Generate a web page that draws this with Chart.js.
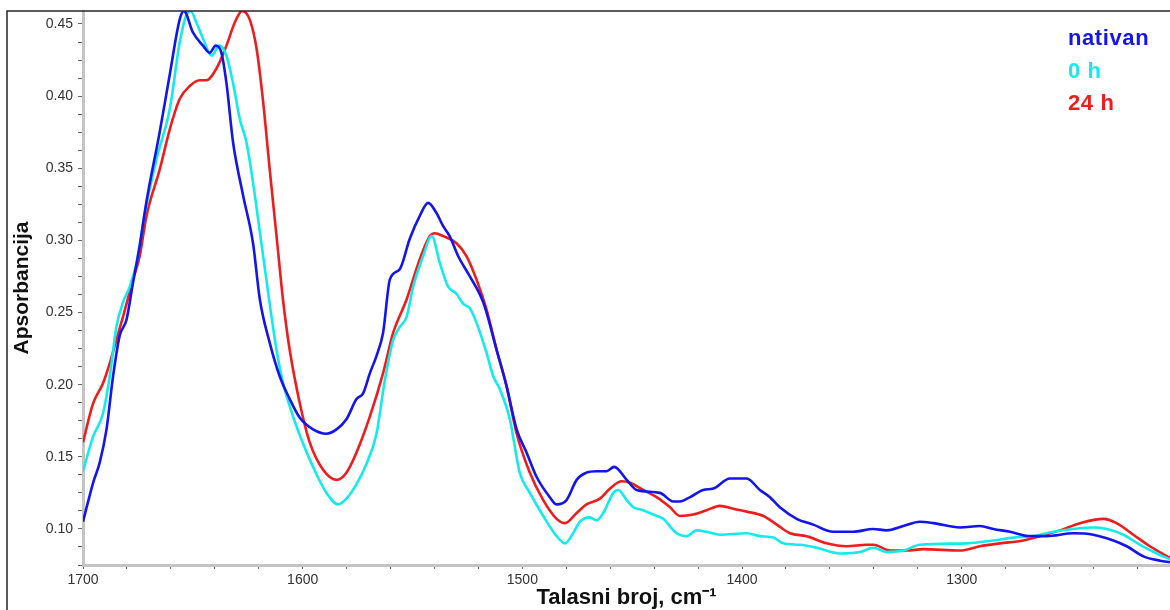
<!DOCTYPE html>
<html>
<head>
<meta charset="utf-8">
<script src="https://cdn.jsdelivr.net/npm/chart.js@4.4.1/dist/chart.umd.min.js"></script>
<style>
  html, body { margin: 0; padding: 0; background: #fff; }
</style>
</head>
<body>
<canvas id="myChart" width="1170" height="610"></canvas>
<script>
// Talasni broj (cm-1) i apsorbancija, procitano sa slike
const wnNativan = [1700, 1695.4, 1692.4, 1689.3, 1686.3, 1683.3, 1680.2, 1677.2, 1674.2, 1671.1,
    1665.1, 1660.5, 1656.0, 1654.1, 1649.9, 1645.4, 1642.3, 1639.6, 1637.0, 1634.7,
    1631.7, 1627.1, 1622.6, 1619.5, 1615.0, 1610.5, 1605.9, 1601.3, 1595.3, 1589.2,
    1584.6, 1580.1, 1575.5, 1572.5, 1569.4, 1566.4, 1563.4, 1560.3, 1555.8, 1551.3,
    1546.7, 1542.9, 1539.1, 1536.1, 1533.1, 1529.2, 1523.9, 1517.8, 1511.7, 1507.2,
    1502.6, 1498.1, 1493.5, 1487.5, 1484.4, 1479.9, 1475.3, 1470.8, 1466.2, 1461.7,
    1458.2, 1452.5, 1448.0, 1437.4, 1431.3, 1428.3, 1423.7, 1417.7, 1413.1, 1405.5,
    1397.9, 1391.9, 1387.3, 1382.8, 1375.1, 1367.6, 1358.5, 1349.4, 1340.3, 1334.2,
    1326.6, 1319.1, 1312.9, 1300.8, 1291.7, 1285.6, 1278.0, 1268.9, 1261.3, 1249.2,
    1240.1, 1231.0, 1224.9, 1217.3, 1209.7, 1205.2];
const absNativan = [0.105, 0.132, 0.146, 0.169, 0.206, 0.234, 0.245, 0.271, 0.296, 0.327,
    0.375, 0.415, 0.453, 0.459, 0.444, 0.435, 0.430, 0.435, 0.430, 0.409,
    0.368, 0.331, 0.298, 0.259, 0.229, 0.206, 0.190, 0.177, 0.169, 0.166,
    0.169, 0.176, 0.190, 0.194, 0.208, 0.220, 0.236, 0.273, 0.280, 0.301,
    0.317, 0.326, 0.319, 0.310, 0.303, 0.289, 0.275, 0.257, 0.224, 0.199,
    0.169, 0.153, 0.136, 0.122, 0.117, 0.120, 0.134, 0.139, 0.140, 0.140,
    0.143, 0.134, 0.127, 0.125, 0.119, 0.119, 0.122, 0.127, 0.128, 0.135,
    0.135, 0.127, 0.122, 0.115, 0.107, 0.103, 0.098, 0.098, 0.100, 0.099,
    0.102, 0.105, 0.104, 0.101, 0.102, 0.100, 0.098, 0.095, 0.095, 0.097,
    0.096, 0.092, 0.088, 0.081, 0.078, 0.077];

const wn0h = [1700, 1695.4, 1690.9, 1687.8, 1684.8, 1681.8, 1678.7, 1675.7, 1672.0, 1666.6,
    1660.5, 1656.0, 1653.0, 1651.0, 1648.4, 1645.4, 1641.5, 1637.8, 1634.7, 1631.7,
    1628.6, 1625.6, 1622.6, 1618.8, 1615.0, 1611.9, 1608.9, 1604.4, 1599.8, 1595.3,
    1589.2, 1583.9, 1580.1, 1575.5, 1571.0, 1566.4, 1562.6, 1558.8, 1555.8, 1552.7,
    1549.7, 1545.2, 1541.3, 1537.5, 1533.8, 1530.0, 1526.9, 1523.9, 1520.9, 1516.3,
    1513.3, 1510.3, 1505.7, 1501.2, 1496.6, 1490.5, 1484.4, 1480.6, 1476.9, 1473.8,
    1469.3, 1466.2, 1463.2, 1458.6, 1456.4, 1452.5, 1449.5, 1445.0, 1440.4, 1435.9,
    1429.8, 1425.3, 1420.7, 1416.1, 1410.1, 1397.9, 1391.9, 1385.8, 1381.2, 1373.6,
    1366.0, 1355.4, 1346.3, 1340.2, 1334.2, 1326.6, 1319.0, 1297.7, 1285.6, 1276.5,
    1267.4, 1258.3, 1249.2, 1240.1, 1234.0, 1226.4, 1218.8, 1211.2, 1205.2];
const abs0h = [0.140, 0.164, 0.180, 0.206, 0.240, 0.257, 0.268, 0.284, 0.318, 0.356,
    0.391, 0.437, 0.456, 0.459, 0.451, 0.440, 0.428, 0.435, 0.428, 0.409,
    0.384, 0.368, 0.340, 0.298, 0.256, 0.224, 0.201, 0.178, 0.159, 0.143,
    0.125, 0.117, 0.121, 0.131, 0.145, 0.166, 0.203, 0.231, 0.240, 0.247,
    0.268, 0.289, 0.303, 0.284, 0.268, 0.263, 0.256, 0.253, 0.243, 0.222,
    0.206, 0.197, 0.176, 0.139, 0.125, 0.109, 0.095, 0.090, 0.097, 0.105,
    0.108, 0.106, 0.111, 0.125, 0.127, 0.120, 0.115, 0.113, 0.110, 0.107,
    0.097, 0.095, 0.099, 0.098, 0.096, 0.097, 0.095, 0.094, 0.090, 0.089,
    0.087, 0.083, 0.084, 0.087, 0.084, 0.085, 0.089, 0.090, 0.092, 0.094,
    0.095, 0.098, 0.100, 0.101, 0.100, 0.096, 0.089, 0.083, 0.079];

const wn24h = [1700, 1695.4, 1690.9, 1687.8, 1684.8, 1681.8, 1677.2, 1674.2, 1671.1, 1665.1,
    1660.5, 1656.0, 1651.4, 1646.9, 1643.8, 1639.3, 1634.7, 1630.9, 1627.6, 1624.1,
    1621.0, 1618.0, 1615.0, 1611.9, 1608.9, 1605.9, 1601.3, 1596.8, 1590.7, 1584.6,
    1580.1, 1575.5, 1569.4, 1563.4, 1558.8, 1552.7, 1546.7, 1542.1, 1539.8, 1536.1,
    1530.0, 1525.4, 1520.9, 1516.3, 1511.7, 1507.2, 1502.6, 1496.6, 1490.5, 1484.4,
    1480.6, 1475.3, 1470.8, 1464.7, 1460.1, 1454.8, 1451.0, 1445.0, 1438.9, 1432.8,
    1428.3, 1422.2, 1416.1, 1410.1, 1404.0, 1397.9, 1390.3, 1384.2, 1378.2, 1370.6,
    1361.5, 1352.4, 1343.3, 1340.2, 1332.6, 1325.0, 1317.5, 1300.8, 1291.7, 1282.6,
    1272.0, 1264.4, 1255.3, 1246.2, 1235.6, 1229.5, 1221.9, 1214.4, 1205.2];
const abs24h = [0.160, 0.187, 0.201, 0.215, 0.231, 0.247, 0.273, 0.289, 0.317, 0.349,
    0.377, 0.398, 0.407, 0.411, 0.411, 0.419, 0.435, 0.451, 0.459, 0.453,
    0.433, 0.396, 0.349, 0.303, 0.258, 0.224, 0.187, 0.160, 0.141, 0.134,
    0.139, 0.153, 0.178, 0.208, 0.236, 0.259, 0.287, 0.303, 0.305, 0.303,
    0.298, 0.289, 0.273, 0.252, 0.224, 0.199, 0.166, 0.139, 0.120, 0.107,
    0.104, 0.111, 0.117, 0.121, 0.128, 0.133, 0.132, 0.127, 0.122, 0.115,
    0.109, 0.110, 0.113, 0.116, 0.114, 0.112, 0.109, 0.103, 0.097, 0.095,
    0.090, 0.088, 0.089, 0.089, 0.085, 0.085, 0.086, 0.085, 0.088, 0.090,
    0.092, 0.095, 0.099, 0.104, 0.107, 0.104, 0.096, 0.088, 0.080];

const seriesNames = ["nativan", "0 h", "24 h"];
const seriesColors = ["#1414ee", "#14eaea", "#ee1c1c"];

const ctx = document.getElementById('myChart').getContext('2d');
Chart.defaults.font.family = '"Liberation Sans", Arial, sans-serif';

// spoji x i y nizove u tacke
const toPoints = (xs, ys) => xs.map((x, i) => ({ x: x, y: ys[i] }));

let datasets = [
    toPoints(wnNativan, absNativan),
    toPoints(wn0h, abs0h),
    toPoints(wn24h, abs24h)
].map((pts, i) => ({
    label: seriesNames[i],
    data: pts,
    borderColor: seriesColors[i],
    borderWidth: 2.6,
    pointRadius: 0,
    fill: false,
    cubicInterpolationMode: 'monotone'
}));

// okvir oko grafika
const framePlugin = {
    id: 'frame',
    afterDraw: (chart) => {
        const c = chart.ctx;
        c.save();
        c.strokeStyle = '#262626';
        c.lineWidth = 1.5;
        c.beginPath();
        c.moveTo(7, chart.height);
        c.lineTo(7, chart.chartArea.top);
        c.lineTo(chart.width, chart.chartArea.top);
        c.stroke();
        c.restore();
    }
};

// legenda kao obojen tekst gore desno
const legendPlugin = {
    id: 'textLegend',
    afterDraw: (chart) => {
        const c = chart.ctx;
        c.save();
        c.font = 'bold 22px "Liberation Sans", Arial, sans-serif';
        c.letterSpacing = '0.6px';
        c.textAlign = 'left';
        c.textBaseline = 'alphabetic';
        chart.data.datasets.forEach((ds, i) => {
            c.fillStyle = ds.borderColor;
            c.fillText(ds.label, chart.chartArea.right - 102, chart.chartArea.top + 34 + i * 32.5);
        });
        c.restore();
    }
};

const isMultiple = (v, step) => Math.abs(v / step - Math.round(v / step)) < 1e-6;

let config = {
    type: 'line',
    data: { datasets: datasets },
    options: {
        responsive: false,
        animation: false,
        layout: { padding: { left: 8, top: 11, right: 0, bottom: 0 } },
        plugins: {
            legend: { display: false },
            tooltip: { enabled: false }
        },
        scales: {
            x: {
                type: 'linear',
                reverse: true,
                min: 1205.2,
                max: 1700,
                afterFit: (scale) => {
                    scale.height = 45;
                    scale.paddingLeft = 0;
                    scale.paddingRight = 0;
                },
                border: { display: true, color: '#c4c4c4', width: 3 },
                grid: { drawOnChartArea: false, drawTicks: true, tickLength: 4, tickColor: '#666', tickWidth: 1 },
                ticks: {
                    stepSize: 20,
                    includeBounds: false,
                    autoSkip: false,
                    maxRotation: 0,
                    padding: 3,
                    color: '#333',
                    font: { size: 14 },
                    callback: (v) => isMultiple(v, 100) ? String(v) : ''
                },
                title: {
                    display: true,
                    text: 'Talasni broj, cm\u207B\u00B9',
                    color: '#111',
                    font: { size: 22, weight: 'bold', lineHeight: 1.0 },
                    padding: { top: 0, bottom: 1 }
                }
            },
            y: {
                type: 'linear',
                min: 0.075,
                max: 0.459,
                afterFit: (scale) => {
                    scale.width = 75;
                    scale.paddingTop = 0;
                    scale.paddingBottom = 0;
                },
                border: { display: true, color: '#c4c4c4', width: 3 },
                grid: { drawOnChartArea: false, drawTicks: true, tickLength: 5, tickColor: '#666', tickWidth: 1 },
                ticks: {
                    stepSize: 0.0125,
                    includeBounds: false,
                    autoSkip: false,
                    padding: 5,
                    color: '#333',
                    font: { size: 14 },
                    callback: (v) => isMultiple(v, 0.05) ? v.toFixed(2) : ''
                },
                title: {
                    display: true,
                    text: 'Apsorbancija',
                    color: '#111',
                    font: { size: 21, weight: 'bold' },
                    padding: { top: 2, bottom: 2 }
                }
            }
        }
    },
    plugins: [framePlugin, legendPlugin]
};

let graphic = new Chart(ctx, config);
</script>
</body>
</html>
